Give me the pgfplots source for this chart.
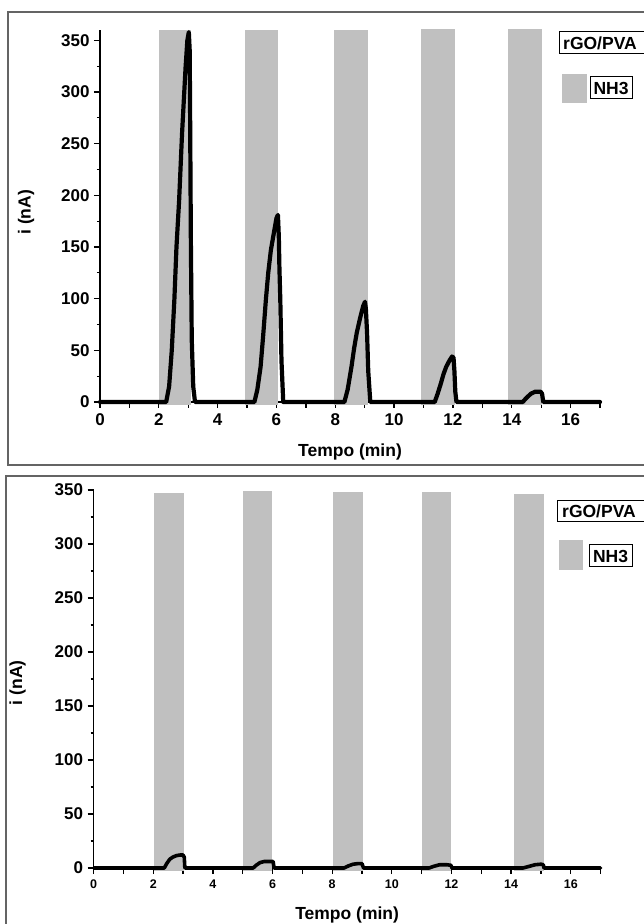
\documentclass[border=0pt]{standalone}
\usepackage{fontspec}
\setmainfont{Liberation Sans}
\usepackage{pgfplots}
\pgfplotsset{compat=1.18}
\definecolor{bargray}{RGB}{192,192,192}
\definecolor{framegray}{RGB}{100,100,100}

\pgfplotsset{
  panel/.style={
    scale only axis, axis lines=left, axis line style={-, line width=1.4pt},
    xmin=0, xmax=17, clip=false,
    xtick={0,1,...,17}, xticklabels={0,,2,,4,,6,,8,,10,,12,,14,,16,},
    ytick={0,50,...,350}, minor y tick num=1,
    tick align=outside, major tick length=6pt, minor tick length=3pt,
    tick style={black, line width=1.3pt},
    /pgf/number format/assume math mode=true,
    yticklabel style={font=\fontsize{17}{20}\selectfont\bfseries, xshift=-1pt},
    xlabel={Tempo (min)}, ylabel={i (nA)},
    label style={font=\fontsize{17.5}{20}\selectfont\bfseries},
  },
  sig/.style={black, line width=4.2pt, line join=round, line cap=round},
  bar/.style={fill=bargray, draw=none},
}

\begin{document}
\begin{tikzpicture}[x=1pt,y=1pt]
\useasboundingbox (0,0) rectangle (644,924);

% ---------- top panel ----------
\draw[framegray, line width=1.5pt] (8,459) rectangle (650,912);
\begin{axis}[panel, at={(100pt,522pt)}, anchor=south west,
  width=500pt, height=372pt, ymin=0, ymax=360,
  xticklabel style={font=\fontsize{17}{20}\selectfont\bfseries, yshift=-2pt},
  xlabel style={at={(axis description cs:0.5,-0.134)}, anchor=center},
  ylabel style={at={(axis description cs:-0.148,0.51)}, anchor=center}]
\addplot[bar] coordinates {(2.02,-3) (2.02,360) (3.10,360) (3.10,-3)} -- cycle;
\addplot[bar] coordinates {(4.93,-3) (4.93,360) (6.06,360) (6.06,-3)} -- cycle;
\addplot[bar] coordinates {(7.95,-3) (7.95,360) (9.11,360) (9.11,-3)} -- cycle;
\addplot[bar] coordinates {(10.92,-3) (10.92,361) (12.08,361) (12.08,-3)} -- cycle;
\addplot[bar] coordinates {(13.86,-3) (13.86,361) (15.03,361) (15.03,-3)} -- cycle;
\addplot[sig] coordinates {
 (0,0) (2.25,0) (2.35,15) (2.44,50) (2.53,100) (2.60,150) (2.69,195) (2.79,260)
 (2.91,324) (2.97,350) (3.02,358) (3.05,340) (3.07,250) (3.09,153) (3.12,60)
 (3.17,15) (3.23,0)
 (5.25,0) (5.35,12) (5.46,34) (5.55,65) (5.64,99) (5.72,125) (5.81,147) (5.92,165)
 (6.00,178) (6.05,181) (6.08,160) (6.10,130) (6.13,99) (6.17,40) (6.23,0)
 (8.31,0) (8.42,12) (8.55,34) (8.64,52) (8.73,67) (8.85,82) (8.95,93) (9.01,97)
 (9.04,90) (9.08,67) (9.12,30) (9.19,0)
 (11.38,0) (11.48,8) (11.59,18) (11.68,27) (11.77,34) (11.88,40) (11.97,44)
 (12.02,43) (12.05,30) (12.08,10) (12.12,0)
 (14.37,0) (14.50,4) (14.65,8) (14.80,10) (14.98,10) (15.03,8) (15.07,0)
 (17,0)};
\end{axis}
\draw[black, line width=1pt, fill=white] (559,870) rectangle (650,892);
\node[anchor=west, inner sep=0pt, font=\fontsize{17.5}{20}\selectfont\bfseries] at (563,881) {rGO/PVA};
\fill[bargray] (562,821) rectangle (587,850);
\draw[black, line width=1pt, fill=white] (590,825) rectangle (632,847);
\node[inner sep=0pt, font=\fontsize{17.5}{20}\selectfont\bfseries] at (611,836) {NH3};

% ---------- bottom panel ----------
\draw[framegray, line width=1.5pt] (6,-6) rectangle (650,448);
\begin{axis}[panel, at={(93.6pt,56pt)}, anchor=south west,
  width=507pt, height=378pt, ymin=0, ymax=350,
  xticklabel style={font=\fontsize{12.5}{15}\selectfont\bfseries, yshift=-2pt},
  xlabel style={at={(axis description cs:0.5,-0.124)}, anchor=center},
  ylabel style={at={(axis description cs:-0.15,0.49)}, anchor=center}]
\addplot[bar] coordinates {(2.04,-3) (2.04,347) (3.03,347) (3.03,-3)} -- cycle;
\addplot[bar] coordinates {(5.00,-3) (5.00,349) (5.98,349) (5.98,-3)} -- cycle;
\addplot[bar] coordinates {(8.03,-3) (8.03,348) (9.02,348) (9.02,-3)} -- cycle;
\addplot[bar] coordinates {(11.00,-3) (11.00,348) (12.00,348) (12.00,-3)} -- cycle;
\addplot[bar] coordinates {(14.08,-3) (14.08,346) (15.10,346) (15.10,-3)} -- cycle;
\addplot[sig, line width=3.6pt] coordinates {
 (0,0) (2.37,0) (2.45,4) (2.55,8) (2.65,10) (2.78,11.5) (2.90,12) (3.00,12)
 (3.04,10) (3.06,0)
 (5.35,0) (5.45,2.5) (5.58,5) (5.72,6) (5.90,6) (6.02,6) (6.05,0)
 (8.40,0) (8.55,2) (8.70,3.5) (8.85,4) (9.00,4) (9.05,0)
 (11.25,0) (11.40,1.5) (11.60,3) (11.85,3) (11.98,2.5) (12.02,0)
 (14.40,0) (14.60,1.5) (14.80,3) (15.00,3.5) (15.08,3) (15.10,0)
 (17,0)};
\end{axis}
\draw[black, line width=1pt, fill=white] (557,402) rectangle (650,423);
\node[anchor=west, inner sep=0pt, font=\fontsize{17.5}{20}\selectfont\bfseries] at (562,412.5) {rGO/PVA};
\fill[bargray] (559,354) rectangle (583,384);
\draw[black, line width=1pt, fill=white] (589,357) rectangle (632,379);
\node[inner sep=0pt, font=\fontsize{17.5}{20}\selectfont\bfseries] at (610.5,368) {NH3};
\end{tikzpicture}
\end{document}
